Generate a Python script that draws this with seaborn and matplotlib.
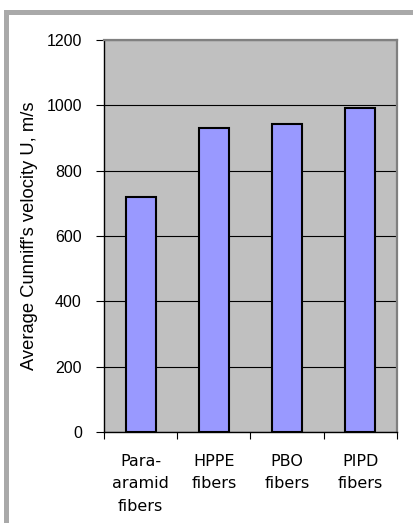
import matplotlib
matplotlib.use("Agg")
import matplotlib.pyplot as plt
from matplotlib.patches import Rectangle
from matplotlib.ticker import FixedLocator, NullFormatter
import seaborn as sns
import pandas as pd

categories = ["Para-\naramid\nfibers", "HPPE\nfibers", "PBO\nfibers", "PIPD\nfibers"]
velocity = [720, 930, 944, 992]
y_ticks = [0, 200, 400, 600, 800, 1000, 1200]

df = pd.DataFrame({"fiber": categories, "velocity": velocity})

sns.set_theme(style="white", rc={"text.color": "black", "axes.labelcolor": "black",
                                 "xtick.color": "black", "ytick.color": "black"})
plt.rcParams["font.family"] = ["Liberation Sans", "DejaVu Sans"]

W, H = 414, 523
fig = plt.figure(figsize=(W / 100, H / 100), dpi=100)
fig.patch.set_facecolor("white")

# outer frame (top and left bands)
fig.add_artist(Rectangle((4 / W, 1 - 15 / H), 1 - 4 / W, 5 / H,
                         transform=fig.transFigure, color="#a9a9a9", lw=0))
fig.add_artist(Rectangle((4 / W, 0), 5 / W, 1 - 10 / H,
                         transform=fig.transFigure, color="#a9a9a9", lw=0))

ax = fig.add_axes([104 / W, 1 - 432 / H, (397 - 104) / W, (432 - 40) / H])
ax.set_facecolor("#c0c0c0")

sns.barplot(data=df, x="fiber", y="velocity", color="#9999ff",
            edgecolor="black", linewidth=1.5, width=0.41, saturation=1,
            ax=ax, zorder=3)

ax.set_ylim(0, 1200)
ax.set_xlim(-0.5, len(categories) - 0.5)
ax.set_yticks(y_ticks)
ax.set_yticklabels([str(t) for t in y_ticks], fontsize=11.5,
                   fontfamily="Liberation Sans")
ax.yaxis.grid(True, color="black", linewidth=0.8, zorder=1)
ax.set_axisbelow(True)

# category labels without ticks; ticks sit on the category boundaries
ax.tick_params(axis="x", which="major", length=0, pad=16)
ax.set_xticklabels(categories, fontsize=11.5, fontfamily="DejaVu Sans",
                   linespacing=1.6, va="top")
ax.xaxis.set_minor_locator(FixedLocator([i - 0.5 for i in range(len(categories) + 1)]))
ax.xaxis.set_minor_formatter(NullFormatter())
ax.tick_params(axis="x", which="minor", length=5, width=0.8, color="black",
               direction="out", bottom=True)
ax.tick_params(axis="y", which="major", length=6, width=0.8, color="black",
               direction="out", left=True, pad=10)

ax.set_xlabel("")
ax.set_ylabel("Average Cunniff's velocity U, m/s", fontsize=13.2,
              fontfamily="Liberation Sans", labelpad=6)

for side in ("left", "bottom"):
    ax.spines[side].set_color("black")
    ax.spines[side].set_linewidth(1.0)
for side in ("top", "right"):
    ax.spines[side].set_visible(True)
    ax.spines[side].set_color("#808080")
    ax.spines[side].set_linewidth(1.6)

fig.savefig("out.png", dpi=100)
